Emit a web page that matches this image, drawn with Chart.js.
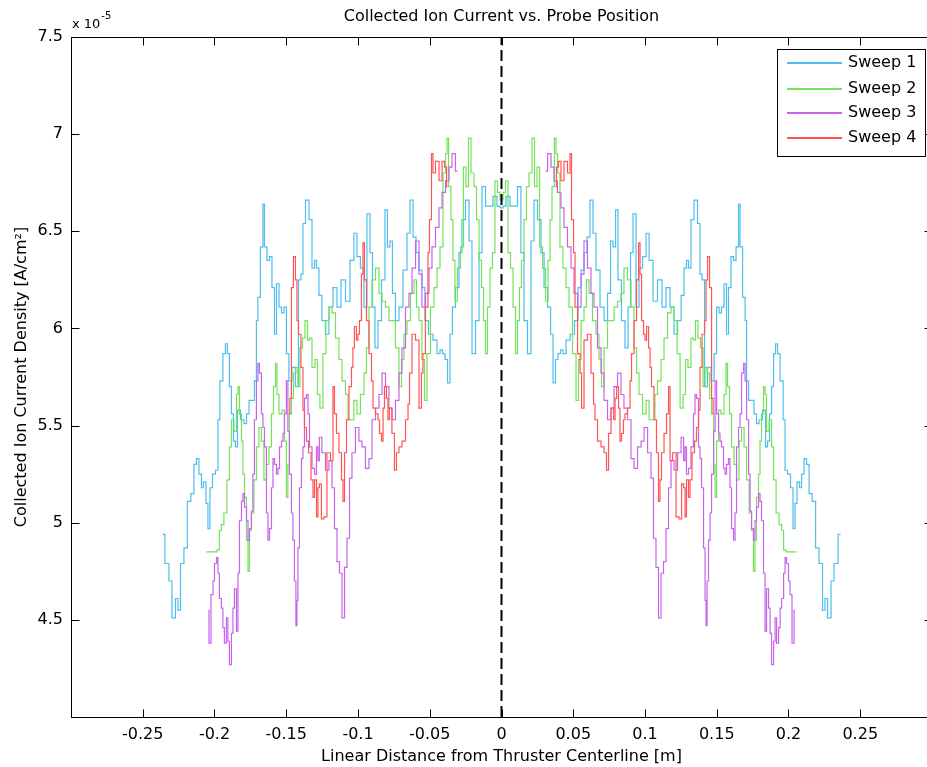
<!DOCTYPE html>
<html>
<head>
<meta charset="utf-8">
<title>Collected Ion Current vs. Probe Position</title>
<script src="https://cdn.jsdelivr.net/npm/chart.js@4/dist/chart.umd.min.js"></script>
<style>
  html, body { margin: 0; padding: 0; background: #fff; }
  #wrap { width: 927px; height: 767px; overflow: hidden; position: relative; }
  canvas { display: block; }
</style>
</head>
<body>
<div id="wrap"><canvas id="chart" width="940" height="767"></canvas></div>
<script>
// --- data (x in m, y in 1e-5 A/cm^2) ---
const seriesNames = ['Sweep 1', 'Sweep 2', 'Sweep 3', 'Sweep 4'];
const seriesColors = ['#4dbeee', '#74e25a', '#c864eb', '#ff5555'];
const xTickLabels = ['-0.25', '-0.2', '-0.15', '-0.1', '-0.05', '0', '0.05', '0.1', '0.15', '0.2', '0.25'];
const yTickLabels = ['4.5', '5', '5.5', '6', '6.5', '7', '7.5'];

const sweep1X = [-0.2363,-0.2328,-0.2307,-0.2286,-0.2258,-0.2251,-0.2223,-0.2203,-0.2175,-0.2154,
  -0.2133,-0.2119,-0.2098,-0.2084,-0.2070,-0.2049,-0.2042,-0.2021,-0.2007,-0.1979,
  -0.1973,-0.1952,-0.1931,-0.1917,-0.1903,-0.1889,-0.1875,-0.1861,-0.1847,-0.1833,
  -0.1805,-0.1784,-0.1770,-0.1749,-0.1729,-0.1715,-0.1701,-0.1694,-0.1666,-0.1659,
  -0.1645,-0.1624,-0.1610,-0.1589,-0.1575,-0.1561,-0.1540,-0.1526,-0.1506,-0.1492,
  -0.1471,-0.1450,-0.1422,-0.1408,-0.1387,-0.1380,-0.1352,-0.1331,-0.1310,-0.1296,
  -0.1282,-0.1262,-0.1241,-0.1213,-0.1192,-0.1157,-0.1136,-0.1101,-0.1073,-0.1039,
  -0.1018,-0.0997,-0.0969,-0.0948,-0.0927,-0.0906,-0.0892,-0.0871,-0.0850,-0.0822,
  -0.0802,-0.0788,-0.0767,-0.0753,-0.0725,-0.0704,-0.0669,-0.0648,-0.0627,-0.0606,
  -0.0585,-0.0565,-0.0544,-0.0523,-0.0495,-0.0460,-0.0439,-0.0418,-0.0404,-0.0383,
  -0.0369,-0.0349,-0.0335,-0.0307,-0.0286,-0.0265,-0.0237,-0.0216,-0.0195,-0.0167,
  -0.0146,-0.0125,-0.0098,-0.0077,-0.0042,-0.0021,0,
  0.0021,0.0042,0.0077,0.0098,0.0125,0.0146,0.0167,0.0195,0.0216,0.0237,
  0.0265,0.0286,0.0307,0.0335,0.0349,0.0369,0.0383,0.0404,0.0418,0.0439,
  0.0460,0.0495,0.0523,0.0544,0.0565,0.0585,0.0606,0.0627,0.0648,0.0669,
  0.0704,0.0725,0.0753,0.0767,0.0788,0.0802,0.0822,0.0850,0.0871,0.0892,
  0.0906,0.0927,0.0948,0.0969,0.0997,0.1018,0.1039,0.1073,0.1101,0.1136,
  0.1157,0.1192,0.1213,0.1241,0.1262,0.1282,0.1296,0.1310,0.1331,0.1352,
  0.1380,0.1387,0.1408,0.1422,0.1450,0.1471,0.1492,0.1506,0.1526,0.1540,
  0.1561,0.1575,0.1589,0.1610,0.1624,0.1645,0.1659,0.1666,0.1694,0.1701,
  0.1715,0.1729,0.1749,0.1770,0.1784,0.1805,0.1833,0.1847,0.1861,0.1875,
  0.1889,0.1903,0.1917,0.1931,0.1952,0.1973,0.1979,0.2007,0.2021,0.2042,
  0.2049,0.2070,0.2084,0.2098,0.2119,0.2133,0.2154,0.2175,0.2203,0.2223,
  0.2251,0.2258,0.2286,0.2307,0.2328,0.2363];
const sweep1Y = [4.94,4.79,4.70,4.51,4.61,4.55,4.79,4.87,5.11,5.15,
  5.30,5.33,5.25,5.18,5.21,5.10,4.97,5.18,5.25,5.27,
  5.53,5.73,5.87,5.92,5.87,5.70,5.56,5.42,5.39,5.58,
  5.53,5.51,5.56,5.63,5.63,5.73,6.04,6.16,6.42,6.64,
  6.42,6.35,6.37,6.21,5.97,6.23,6.11,6.08,6.11,5.87,
  5.73,5.80,5.70,6.25,6.28,6.54,6.66,6.56,6.31,6.35,
  6.31,6.17,6.04,5.97,6.11,6.21,6.11,6.25,6.14,6.35,
  6.49,6.37,6.31,6.11,6.59,6.39,6.11,5.90,6.04,6.25,
  6.61,6.42,6.45,6.18,6.04,6.11,6.30,6.49,6.66,6.47,
  6.39,6.30,6.21,6.04,5.97,5.94,5.87,5.89,5.87,5.84,
  5.72,5.97,6.11,6.21,6.39,6.56,6.66,6.45,5.87,6.04,
  6.39,6.73,6.63,6.63,6.68,6.63,6.62,
  6.63,6.68,6.63,6.63,6.73,6.39,6.04,5.87,6.45,6.66,
  6.56,6.39,6.21,6.11,5.97,5.72,5.84,5.87,5.89,5.87,
  5.94,5.97,6.04,6.21,6.30,6.39,6.47,6.66,6.49,6.30,
  6.11,6.04,6.18,6.45,6.42,6.61,6.25,6.04,5.90,6.11,
  6.39,6.59,6.11,6.31,6.37,6.49,6.35,6.14,6.25,6.11,
  6.21,6.11,5.97,6.04,6.17,6.31,6.35,6.31,6.56,6.66,
  6.54,6.28,6.25,5.70,5.80,5.73,5.87,6.11,6.08,6.11,
  6.23,5.97,6.21,6.37,6.35,6.42,6.64,6.42,6.16,6.04,
  5.73,5.63,5.63,5.56,5.51,5.53,5.58,5.39,5.42,5.56,
  5.70,5.87,5.92,5.87,5.73,5.53,5.27,5.25,5.18,4.97,
  5.10,5.21,5.18,5.25,5.33,5.30,5.15,5.11,4.87,4.79,
  4.55,4.61,4.51,4.70,4.79,4.94];

const sweep2X = [-0.2056,-0.1993,-0.1973,-0.1959,-0.1945,-0.1924,-0.1903,-0.1889,-0.1875,-0.1854,
  -0.1840,-0.1833,-0.1819,-0.1805,-0.1798,-0.1784,-0.1770,-0.1763,-0.1749,-0.1736,
  -0.1715,-0.1701,-0.1680,-0.1666,-0.1645,-0.1631,-0.1610,-0.1596,-0.1582,-0.1568,
  -0.1561,-0.1540,-0.1519,-0.1506,-0.1492,-0.1485,-0.1471,-0.1457,-0.1443,-0.1422,
  -0.1415,-0.1394,-0.1380,-0.1359,-0.1345,-0.1331,-0.1310,-0.1289,-0.1276,-0.1255,
  -0.1234,-0.1213,-0.1192,-0.1171,-0.1143,-0.1122,-0.1101,-0.1073,-0.1066,-0.1039,
  -0.1018,-0.0997,-0.0969,-0.0948,-0.0934,-0.0913,-0.0892,-0.0864,-0.0843,-0.0822,
  -0.0795,-0.0774,-0.0753,-0.0725,-0.0704,-0.0690,-0.0669,-0.0648,-0.0620,-0.0599,
  -0.0585,-0.0565,-0.0544,-0.0530,-0.0509,-0.0481,-0.0460,-0.0439,-0.0418,-0.0397,
  -0.0383,-0.0376,-0.0362,-0.0342,-0.0335,-0.0314,-0.0300,-0.0272,-0.0258,-0.0237,
  -0.0223,-0.0202,-0.0181,-0.0167,-0.0146,-0.0132,-0.0118,-0.0105,-0.0091,-0.0070,
  -0.0056,-0.0035,-0.0021,0,
  0.0021,0.0035,0.0056,0.0070,0.0091,0.0105,0.0118,0.0132,0.0146,0.0167,
  0.0181,0.0202,0.0223,0.0237,0.0258,0.0272,0.0300,0.0314,0.0335,0.0342,
  0.0362,0.0376,0.0383,0.0397,0.0418,0.0439,0.0460,0.0481,0.0509,0.0530,
  0.0544,0.0565,0.0585,0.0599,0.0620,0.0648,0.0669,0.0690,0.0704,0.0725,
  0.0753,0.0774,0.0795,0.0822,0.0843,0.0864,0.0892,0.0913,0.0934,0.0948,
  0.0969,0.0997,0.1018,0.1039,0.1066,0.1073,0.1101,0.1122,0.1143,0.1171,
  0.1192,0.1213,0.1234,0.1255,0.1276,0.1289,0.1310,0.1331,0.1345,0.1359,
  0.1380,0.1394,0.1415,0.1422,0.1443,0.1457,0.1471,0.1485,0.1492,0.1506,
  0.1519,0.1540,0.1561,0.1568,0.1582,0.1596,0.1610,0.1631,0.1645,0.1666,
  0.1680,0.1701,0.1715,0.1736,0.1749,0.1763,0.1770,0.1784,0.1798,0.1805,
  0.1819,0.1833,0.1840,0.1854,0.1875,0.1889,0.1903,0.1924,0.1945,0.1959,
  0.1973,0.1993,0.2056];
const sweep2Y = [4.85,4.85,4.86,4.96,4.99,5.05,5.22,5.39,5.53,5.47,
  5.66,5.70,5.56,5.42,5.25,5.13,4.91,4.75,4.96,5.05,
  5.22,5.39,5.49,5.42,5.22,5.30,5.39,5.56,5.70,5.82,
  5.66,5.56,5.58,5.42,5.13,5.30,5.56,5.64,5.77,5.80,
  5.70,5.90,5.95,6.04,5.94,5.95,5.80,5.84,5.66,5.59,
  5.87,6.04,6.11,6.08,5.95,5.84,5.73,5.66,5.53,5.53,
  5.63,5.56,5.66,5.77,5.90,6.11,6.25,6.31,6.18,6.14,
  6.11,6.04,6.04,5.90,5.70,5.84,5.97,6.04,6.18,6.25,
  6.11,6.04,5.84,5.63,5.87,6.11,6.21,6.31,6.42,6.80,
  6.90,6.98,6.73,6.56,6.35,6.14,6.31,6.42,6.83,6.73,
  6.98,6.80,6.73,6.56,6.35,6.21,6.04,5.87,6.11,6.31,
  6.39,6.76,6.70,6.66,
  6.70,6.76,6.39,6.31,6.11,5.87,6.04,6.21,6.35,6.56,
  6.73,6.80,6.98,6.73,6.83,6.42,6.31,6.14,6.35,6.56,
  6.73,6.98,6.90,6.80,6.42,6.31,6.21,6.11,5.87,5.63,
  5.84,6.04,6.11,6.25,6.18,6.04,5.97,5.84,5.70,5.90,
  6.04,6.04,6.11,6.14,6.18,6.31,6.25,6.11,5.90,5.77,
  5.66,5.56,5.63,5.53,5.53,5.66,5.73,5.84,5.95,6.08,
  6.11,6.04,5.87,5.59,5.66,5.84,5.80,5.95,5.94,6.04,
  5.95,5.90,5.70,5.80,5.77,5.64,5.56,5.30,5.13,5.42,
  5.58,5.56,5.66,5.82,5.70,5.56,5.39,5.30,5.22,5.42,
  5.49,5.39,5.22,5.05,4.96,4.75,4.91,5.13,5.25,5.42,
  5.56,5.70,5.66,5.47,5.53,5.39,5.22,5.05,4.99,4.96,
  4.86,4.85,4.85];

const sweep3X = [-0.2042,-0.2035,-0.2014,-0.2007,-0.1993,-0.1979,-0.1973,-0.1959,-0.1945,-0.1938,
  -0.1924,-0.1910,-0.1903,-0.1889,-0.1875,-0.1868,-0.1854,-0.1840,-0.1833,-0.1819,
  -0.1805,-0.1798,-0.1784,-0.1770,-0.1763,-0.1749,-0.1736,-0.1729,-0.1715,-0.1701,
  -0.1694,-0.1680,-0.1666,-0.1659,-0.1645,-0.1631,-0.1624,-0.1610,-0.1596,-0.1589,
  -0.1575,-0.1561,-0.1554,-0.1540,-0.1526,-0.1519,-0.1506,-0.1492,-0.1485,-0.1471,
  -0.1457,-0.1450,-0.1436,-0.1429,-0.1422,-0.1415,-0.1401,-0.1387,-0.1380,-0.1366,
  -0.1352,-0.1345,-0.1331,-0.1310,-0.1296,-0.1282,-0.1276,-0.1262,-0.1241,-0.1213,
  -0.1192,-0.1171,-0.1157,-0.1136,-0.1122,-0.1101,-0.1087,-0.1066,-0.1052,-0.1032,
  -0.1004,-0.0983,-0.0962,-0.0934,-0.0913,-0.0892,-0.0864,-0.0843,-0.0822,-0.0795,
  -0.0774,-0.0753,-0.0725,-0.0704,-0.0683,-0.0655,-0.0634,-0.0613,-0.0585,-0.0565,
  -0.0544,-0.0516,-0.0495,-0.0474,-0.0446,-0.0425,-0.0404,-0.0376,-0.0355,-0.0335,
  -0.0307,
  0,
  0.0307,0.0335,0.0355,0.0376,0.0404,0.0425,0.0446,0.0474,0.0495,0.0516,
  0.0544,0.0565,0.0585,0.0613,0.0634,0.0655,0.0683,0.0704,0.0725,0.0753,
  0.0774,0.0795,0.0822,0.0843,0.0864,0.0892,0.0913,0.0934,0.0962,0.0983,
  0.1004,0.1032,0.1052,0.1066,0.1087,0.1101,0.1122,0.1136,0.1157,0.1171,
  0.1192,0.1213,0.1241,0.1262,0.1276,0.1282,0.1296,0.1310,0.1331,0.1345,
  0.1352,0.1366,0.1380,0.1387,0.1401,0.1415,0.1422,0.1429,0.1436,0.1450,
  0.1457,0.1471,0.1485,0.1492,0.1506,0.1519,0.1526,0.1540,0.1554,0.1561,
  0.1575,0.1589,0.1596,0.1610,0.1624,0.1631,0.1645,0.1659,0.1666,0.1680,
  0.1694,0.1701,0.1715,0.1729,0.1736,0.1749,0.1763,0.1770,0.1784,0.1798,
  0.1805,0.1819,0.1833,0.1840,0.1854,0.1868,0.1875,0.1889,0.1903,0.1910,
  0.1924,0.1938,0.1945,0.1959,0.1973,0.1979,0.1993,0.2007,0.2014,0.2035,
  0.2042];
const sweep3Y = [4.55,4.38,4.63,4.70,4.79,4.82,4.74,4.61,4.56,4.46,
  4.38,4.51,4.39,4.27,4.43,4.56,4.66,4.44,4.74,5.01,
  5.11,5.15,5.08,5.01,4.91,4.97,5.06,5.25,5.53,5.73,
  5.82,5.77,5.56,5.49,5.39,5.05,4.91,4.97,5.18,5.33,
  5.30,5.25,5.28,5.39,5.42,5.46,5.56,5.73,5.47,5.25,
  5.05,4.91,4.70,4.47,4.60,4.87,5.18,5.33,5.39,5.64,
  5.66,5.56,5.39,5.28,5.25,5.39,5.32,5.44,5.36,5.27,
  5.32,5.18,4.97,4.80,4.74,4.51,4.77,4.92,5.23,5.36,
  5.49,5.42,5.39,5.28,5.33,5.53,5.59,5.66,5.77,5.70,
  5.59,5.53,5.63,5.77,5.90,6.11,6.18,6.31,6.45,6.28,
  6.11,6.18,6.31,6.42,6.52,6.62,6.70,6.76,6.83,6.90,
  6.81,
  null,
  6.81,6.90,6.83,6.76,6.70,6.62,6.52,6.42,6.31,6.18,
  6.11,6.28,6.45,6.31,6.18,6.11,5.90,5.77,5.63,5.53,
  5.59,5.70,5.77,5.66,5.59,5.53,5.33,5.28,5.39,5.42,
  5.49,5.36,5.23,4.92,4.77,4.51,4.74,4.80,4.97,5.18,
  5.32,5.27,5.36,5.44,5.32,5.39,5.25,5.28,5.39,5.56,
  5.66,5.64,5.39,5.33,5.18,4.87,4.60,4.47,4.70,4.91,
  5.05,5.25,5.47,5.73,5.56,5.46,5.42,5.39,5.28,5.25,
  5.30,5.33,5.18,4.97,4.91,5.05,5.39,5.49,5.56,5.77,
  5.82,5.73,5.53,5.25,5.06,4.97,4.91,5.01,5.08,5.15,
  5.11,5.01,4.74,4.44,4.66,4.56,4.43,4.27,4.39,4.51,
  4.38,4.46,4.56,4.61,4.74,4.82,4.79,4.70,4.63,4.38,
  4.55];

const sweep4X = [-0.1478,-0.1471,-0.1457,-0.1443,-0.1429,-0.1422,-0.1408,-0.1387,-0.1380,-0.1366,
  -0.1352,-0.1338,-0.1317,-0.1310,-0.1296,-0.1282,-0.1276,-0.1262,-0.1248,-0.1227,
  -0.1206,-0.1178,-0.1171,-0.1157,-0.1143,-0.1122,-0.1108,-0.1101,-0.1087,-0.1073,
  -0.1052,-0.1039,-0.1032,-0.1018,-0.1004,-0.0997,-0.0983,-0.0969,-0.0962,-0.0948,
  -0.0934,-0.0913,-0.0899,-0.0892,-0.0864,-0.0857,-0.0843,-0.0829,-0.0822,-0.0809,
  -0.0795,-0.0788,-0.0774,-0.0753,-0.0739,-0.0725,-0.0704,-0.0683,-0.0655,-0.0648,
  -0.0634,-0.0613,-0.0585,-0.0565,-0.0551,-0.0544,-0.0516,-0.0509,-0.0495,-0.0481,
  -0.0474,-0.0446,-0.0425,-0.0404,-0.0390,-0.0376,
  0,
  0.0376,0.0390,0.0404,0.0425,0.0446,0.0474,0.0481,0.0495,0.0509,0.0516,
  0.0544,0.0551,0.0565,0.0585,0.0613,0.0634,0.0648,0.0655,0.0683,0.0704,
  0.0725,0.0739,0.0753,0.0774,0.0788,0.0795,0.0809,0.0822,0.0829,0.0843,
  0.0857,0.0864,0.0892,0.0899,0.0913,0.0934,0.0948,0.0962,0.0969,0.0983,
  0.0997,0.1004,0.1018,0.1032,0.1039,0.1052,0.1073,0.1087,0.1101,0.1108,
  0.1122,0.1143,0.1157,0.1171,0.1178,0.1206,0.1227,0.1248,0.1262,0.1276,
  0.1282,0.1296,0.1310,0.1317,0.1338,0.1352,0.1366,0.1380,0.1387,0.1408,
  0.1422,0.1429,0.1443,0.1457,0.1471,0.1478];
const sweep4Y = [5.56,5.64,6.21,6.37,6.25,6.04,5.97,5.80,5.58,5.49,
  5.42,5.36,5.22,5.13,5.22,5.03,5.18,5.20,5.02,5.03,
  5.36,5.32,5.70,5.56,5.46,5.36,5.22,5.11,5.36,5.53,
  5.70,5.80,5.90,6.01,5.94,5.97,6.04,6.28,6.44,6.25,
  6.04,5.87,5.73,5.59,5.56,5.53,5.46,5.42,5.59,5.70,
  5.64,5.53,5.59,5.46,5.27,5.36,5.39,5.42,5.53,5.61,
  5.77,5.97,5.94,5.59,5.77,5.87,6.11,6.39,6.56,6.90,
  6.80,6.86,6.76,6.86,6.83,6.73,
  null,
  6.73,6.83,6.86,6.76,6.86,6.80,6.90,6.56,6.39,6.11,
  5.87,5.77,5.59,5.94,5.97,5.77,5.61,5.53,5.42,5.39,
  5.36,5.27,5.46,5.59,5.53,5.64,5.70,5.59,5.42,5.46,
  5.53,5.56,5.59,5.73,5.87,6.04,6.25,6.44,6.28,6.04,
  5.97,5.94,6.01,5.90,5.80,5.70,5.53,5.36,5.11,5.22,
  5.36,5.46,5.56,5.70,5.32,5.36,5.03,5.02,5.20,5.18,
  5.03,5.22,5.13,5.22,5.36,5.42,5.49,5.58,5.80,5.97,
  6.04,6.25,6.37,6.21,5.64,5.56];

const centerlineX = [0, 0];
const centerlineY = [4, 7.5];

// --- helpers ---
const FONT = "'DejaVu Sans', sans-serif";
Chart.defaults.font.family = FONT;
Chart.defaults.font.size = 16;
Chart.defaults.color = '#000';

function pts(xs, ys) {
  return xs.map((x, i) => ({ x: x, y: ys[i] }));
}

const sweeps = [
  [sweep1X, sweep1Y],
  [sweep2X, sweep2Y],
  [sweep3X, sweep3Y],
  [sweep4X, sweep4Y]
];

const datasets = sweeps.map((s, i) => ({
  label: seriesNames[i],
  data: pts(s[0], s[1]),
  borderColor: seriesColors[i],
  borderWidth: 1.2,
  pointRadius: 0,
  stepped: 'middle',
  spanGaps: false,
  order: 4 - i   // later sweeps drawn on top, like the original
}));

datasets.push({
  label: '',
  data: pts(centerlineX, centerlineY),
  borderColor: '#000',
  borderWidth: 2,
  borderDash: [11, 5],
  pointRadius: 0,
  order: 0,
  isGuide: true
});

// --- frame, inward ticks, title, multiplier and boxed legend ---
const matlabLook = {
  id: 'matlabLook',
  afterDraw(chart) {
    const { ctx, chartArea: a, scales } = chart;
    const L = Math.round(a.left) + 0.5, T = Math.round(a.top) + 0.5;
    const R = Math.round(a.right) + 0.5, B = Math.round(a.bottom) + 0.5;
    ctx.save();
    ctx.strokeStyle = '#000';
    ctx.lineWidth = 1;
    ctx.setLineDash([]);
    ctx.strokeRect(L, T, R - L, B - T);

    ctx.beginPath();
    scales.x.ticks.forEach(t => {
      const px = Math.round(scales.x.getPixelForValue(t.value)) + 0.5;
      ctx.moveTo(px, B); ctx.lineTo(px, B - 8);
      ctx.moveTo(px, T); ctx.lineTo(px, T + 8);
    });
    scales.y.ticks.forEach(t => {
      const py = Math.round(scales.y.getPixelForValue(t.value)) + 0.5;
      ctx.moveTo(L, py); ctx.lineTo(L + 8, py);
      ctx.moveTo(R, py); ctx.lineTo(R - 8, py);
    });
    ctx.stroke();

    // title
    ctx.fillStyle = '#000';
    ctx.font = '16px ' + FONT;
    ctx.textAlign = 'center';
    ctx.textBaseline = 'middle';
    ctx.fillText('Collected Ion Current vs. Probe Position', (a.left + a.right) / 2, 17);

    // exponent label
    ctx.textAlign = 'left';
    ctx.textBaseline = 'alphabetic';
    ctx.font = '13px ' + FONT;
    ctx.fillText('x 10', a.left + 1, 28);
    const w = ctx.measureText('x 10').width;
    ctx.font = '10px ' + FONT;
    ctx.fillText('-5', a.left + 1 + w + 1, 19);

    // legend box
    const bx = 777.5, by = 49.5, bw = 148, bh = 107;
    ctx.fillStyle = '#fff';
    ctx.fillRect(bx, by, bw, bh);
    ctx.strokeRect(bx, by, bw, bh);
    const rows = [63, 89, 113, 138];
    ctx.font = '16px ' + FONT;
    ctx.textBaseline = 'middle';
    ctx.lineWidth = 2;
    chart.data.datasets.filter(d => !d.isGuide).forEach((d, i) => {
      ctx.strokeStyle = d.borderColor;
      ctx.beginPath();
      ctx.moveTo(787, rows[i]);
      ctx.lineTo(842, rows[i]);
      ctx.stroke();
      ctx.fillStyle = '#000';
      ctx.fillText(d.label, 848, rows[i]);
    });
    ctx.restore();
  }
};

new Chart(document.getElementById('chart'), {
  type: 'line',
  data: { datasets: datasets },
  options: {
    responsive: false,
    devicePixelRatio: 1,
    animation: false,
    layout: { padding: { left: 0, top: 37, right: 8, bottom: 0 } },
    plugins: { legend: { display: false }, tooltip: { enabled: false } },
    scales: {
      x: {
        type: 'linear',
        min: -0.3,
        max: 0.3,
        grid: { display: false, drawTicks: false },
        border: { display: false },
        ticks: {
          stepSize: 0.05,
          padding: 8,
          maxRotation: 0,
          autoSkip: false,
          callback: v => {
            const s = String(Number(v.toFixed(2)));
            return xTickLabels.includes(s) ? s : '';
          }
        },
        title: {
          display: true,
          text: 'Linear Distance from Thruster Centerline [m]',
          font: { size: 16 },
          padding: { top: 0, bottom: 1 }
        },
        afterFit: s => { s.height = 50; }
      },
      y: {
        min: 4,
        max: 7.5,
        grid: { display: false, drawTicks: false },
        border: { display: false },
        ticks: {
          stepSize: 0.5,
          padding: 8,
          callback: v => {
            const s = String(Number(v.toFixed(1)));
            return yTickLabels.includes(s) ? s : '';
          }
        },
        title: {
          display: true,
          text: 'Collected Ion Current Density [A/cm²]',
          font: { size: 16 },
          padding: { top: 12, bottom: 0 }
        },
        afterFit: s => { s.width = 71; }
      }
    }
  },
  plugins: [matlabLook]
});
</script>
</body>
</html>
